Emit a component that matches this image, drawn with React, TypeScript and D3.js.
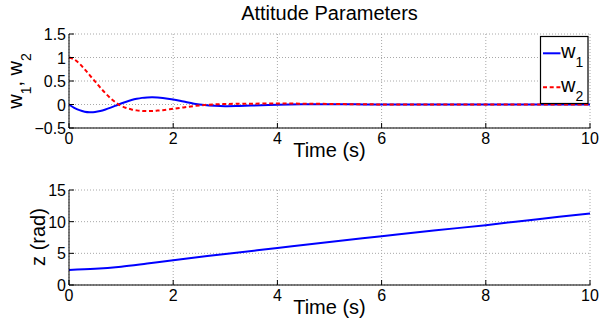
import React from "react";
import * as d3 from "d3";

const timeW = [0, 0.1, 0.2, 0.3, 0.4, 0.5, 0.6, 0.7, 0.8, 0.9, 1.0, 1.1, 1.2, 1.3, 1.4, 1.5, 1.6, 1.7, 1.8, 2.0, 2.2, 2.4, 2.6, 2.8, 3.0, 3.2, 3.5, 4.0, 4.5, 5.0, 5.5, 6.0, 7.0, 8.0, 9.0, 10.0];
const w1Values = [0, -0.07, -0.12, -0.152, -0.164, -0.16, -0.14, -0.107, -0.067, -0.023, 0.02, 0.06, 0.095, 0.122, 0.141, 0.151, 0.154, 0.15, 0.14, 0.107, 0.062, 0.018, -0.013, -0.029, -0.036, -0.034, -0.023, -0.006, 0.004, 0.005, 0.003, 0.001, 0, 0, 0, 0];
const w2Values = [1.0, 0.96, 0.87, 0.75, 0.62, 0.49, 0.36, 0.24, 0.13, 0.04, -0.03, -0.075, -0.105, -0.125, -0.136, -0.14, -0.138, -0.13, -0.12, -0.092, -0.062, -0.032, -0.01, 0.004, 0.011, 0.015, 0.018, 0.02, 0.018, 0.012, 0.006, 0.002, 0, 0, 0, 0];

const timeZ = [0, 0.5, 1, 1.5, 2, 3, 4, 5, 6, 7, 8, 9, 10];
const zValues = [2.37, 2.55, 2.9, 3.4, 3.92, 4.9, 5.85, 6.8, 7.7, 8.6, 9.45, 10.4, 11.3];

const xTicks = [0, 2, 4, 6, 8, 10];
const yTicksTop = [-0.5, 0, 0.5, 1, 1.5];
const yTicksBottom = [0, 5, 10, 15];

const FONT = "'Liberation Sans', Arial, Helvetica, sans-serif";

function fmt(v: number) {
  const s = String(v);
  return s.startsWith("-") ? "\u2212" + s.slice(1) : s;
}

function Panel({ top, bottom, yDomain, yTicks, children }: any) {
  const x = d3.scaleLinear().domain([0, 10]).range([69, 590]);
  const y = d3.scaleLinear().domain(yDomain).range([bottom, top]);
  return (
    <g>
      {/* grid */}
      {xTicks.map((t) => (
        <line key={"gx" + t} x1={x(t)} x2={x(t)} y1={top} y2={bottom} stroke="#a8a8a8" strokeWidth={1} strokeDasharray="1,2" />
      ))}
      {yTicks.map((t: number) => (
        <line key={"gy" + t} x1={69} x2={590} y1={y(t)} y2={y(t)} stroke="#a8a8a8" strokeWidth={1} strokeDasharray="1,2" />
      ))}
      {children(x, y)}
      {/* axes */}
      <line x1={69} x2={590.5} y1={bottom} y2={bottom} stroke="#000" strokeWidth={1} />
      <line x1={69} x2={69} y1={top} y2={bottom} stroke="#000" strokeWidth={1} />
      {xTicks.map((t) => (
        <g key={"tx" + t}>
          <line x1={x(t)} x2={x(t)} y1={bottom} y2={bottom - 5} stroke="#000" strokeWidth={1} />
          <text x={x(t)} y={bottom + 16} fontSize={16} textAnchor="middle" fontFamily={FONT} fill="#000">{t}</text>
        </g>
      ))}
      {yTicks.map((t: number) => (
        <g key={"ty" + t}>
          <line x1={69} x2={74} y1={y(t)} y2={y(t)} stroke="#000" strokeWidth={1} />
          <text x={66} y={y(t) + 6} fontSize={16} textAnchor="end" fontFamily={FONT} fill="#000">{fmt(t)}</text>
        </g>
      ))}
      <text x={329.5} y={bottom + 29} fontSize={20} textAnchor="middle" fontFamily={FONT} fill="#000">Time (s)</text>
    </g>
  );
}

export default function App() {
  const lineW1 = (x: any, y: any) =>
    d3.line<number>().x((_, i) => x(timeW[i])).y((d) => y(d)).curve(d3.curveCatmullRom)(w1Values) || "";
  const lineW2 = (x: any, y: any) =>
    d3.line<number>().x((_, i) => x(timeW[i])).y((d) => y(d)).curve(d3.curveCatmullRom)(w2Values) || "";
  const lineZ = (x: any, y: any) =>
    d3.line<number>().x((_, i) => x(timeZ[i])).y((d) => y(d)).curve(d3.curveCatmullRom)(zValues) || "";

  return (
    <svg width={600} height={328} style={{ position: "absolute", left: 0, top: 0, background: "#fff" }}>
      <rect x={0} y={0} width={600} height={328} fill="#fff" />
      <text x={329.5} y={20} fontSize={20} textAnchor="middle" fontFamily={FONT} fill="#000">Attitude Parameters</text>
      <Panel top={34} bottom={128} yDomain={[-0.5, 1.5]} yTicks={yTicksTop}>
        {(x: any, y: any) => (
          <g>
            <path d={lineW1(x, y)} fill="none" stroke="#0000ff" strokeWidth={2} />
            <path d={lineW2(x, y)} fill="none" stroke="#ff0000" strokeWidth={2} strokeDasharray="4,2.7" />
          </g>
        )}
      </Panel>
      <Panel top={190} bottom={285} yDomain={[0, 15]} yTicks={yTicksBottom}>
        {(x: any, y: any) => (
          <path d={lineZ(x, y)} fill="none" stroke="#0000ff" strokeWidth={2} />
        )}
      </Panel>
      {/* legend */}
      <rect x={540.5} y={36.5} width={47.5} height={67} fill="#fff" stroke="#000" strokeWidth={1.2} />
      <line x1={543} x2={560.5} y1={53.3} y2={53.3} stroke="#0000ff" strokeWidth={2} />
      <text x={561} y={57.5} fontSize={20} fontFamily={FONT} fill="#000">w<tspan fontSize={14} dy={9}>1</tspan></text>
      <line x1={543} x2={560.5} y1={87.3} y2={87.3} stroke="#ff0000" strokeWidth={2} strokeDasharray="4,2.7" />
      <text x={561} y={91.5} fontSize={20} fontFamily={FONT} fill="#000">w<tspan fontSize={14} dy={9}>2</tspan></text>
      {/* y labels */}
      <text transform="translate(22,81) rotate(-90)" fontSize={20} textAnchor="middle" fontFamily={FONT} fill="#000">
        w<tspan fontSize={14} dy={9}>1</tspan><tspan dy={-9}>, w</tspan><tspan fontSize={14} dy={9}>2</tspan>
      </text>
      <text transform="translate(45,237) rotate(-90)" fontSize={20} textAnchor="middle" fontFamily={FONT} fill="#000">z (rad)</text>
    </svg>
  );
}
